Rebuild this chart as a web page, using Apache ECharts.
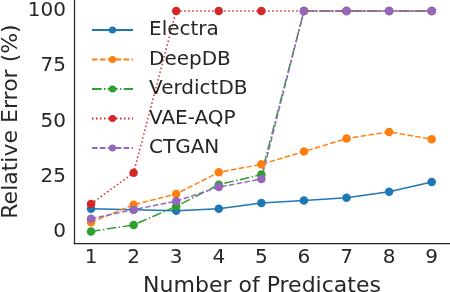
<!DOCTYPE html>
<html>
<head>
<meta charset="utf-8">
<script src="https://cdn.jsdelivr.net/npm/echarts@6/dist/echarts.min.js"></script>
<style>html,body{margin:0;padding:0;background:#fff}#c{width:450px;height:292px}</style>
</head>
<body>
<div id="c"></div>
<script>
const categories = [1, 2, 3, 4, 5, 6, 7, 8, 9];
const electra = [10.5, 10.1, 9.6, 10.5, 13.1, 14.2, 15.5, 18.2, 22.6];
const deepdb = [4.4, 12.3, 17.2, 27.0, 30.6, 36.4, 42.3, 45.3, 42.0];
const verdictdb = [0.2, 3.2, 11.6, 21.4, 26.0, 100, 100, 100, 100];
const vaeaqp = [12.7, 26.8, 100, 100, 100, 100, 100, 100, 100];
const ctgan = [6.0, 10.1, 13.9, 20.3, 24.0, 100, 100, 100, 100];
const yTicks = [0, 25, 50, 75, 100];

const seriesDefs = [
  {name: 'Electra', data: electra, color: '#1f77b4', dash: 'solid'},
  {name: 'DeepDB', data: deepdb, color: '#ff7f0e', dash: [5.5, 2.4]},
  {name: 'VerdictDB', data: verdictdb, color: '#2ca02c', dash: [9.6, 2.4, 1.5, 2.4]},
  {name: 'VAE-AQP', data: vaeaqp, color: '#d62728', dash: [1.5, 2.5]},
  {name: 'CTGAN', data: ctgan, color: '#9467bd', dash: [5.5, 2.4]}
];

const chart = echarts.init(document.getElementById('c'), null, {renderer: 'canvas'});
const font = 'DejaVu Sans';
const txt = '#262626';
chart.setOption({
  animation: false,
  grid: {left: 74, right: 0, top: 0, bottom: 49, containLabel: false, outerBoundsMode: 'none'},
  legend: {
    left: 91, top: 19, orient: 'vertical', padding: 0,
    itemWidth: 41, itemHeight: 9, itemGap: 7.5,
    textStyle: {fontFamily: font, fontSize: 20, color: txt, padding: [0, 0, 0, 11], lineHeight: 22},
    data: seriesDefs.map(s => s.name)
  },
  xAxis: {
    type: 'value', min: 0.6, max: 9.43,
    name: 'Number of Predicates', nameLocation: 'middle', nameGap: 32, nameMoveOverlap: false,
    nameTextStyle: {fontFamily: font, fontSize: 22, color: txt},
    axisLine: {show: true, onZero: false, lineStyle: {color: txt, width: 1.25}},
    axisTick: {show: false},
    splitLine: {show: false},
    axisLabel: {customValues: categories, fontFamily: font, fontSize: 20, color: txt, margin: 5}
  },
  yAxis: {
    type: 'value', min: -5, max: 105,
    name: 'Relative Error (%)', nameLocation: 'middle', nameGap: 52, nameRotate: 90, nameMoveOverlap: false,
    nameTextStyle: {fontFamily: font, fontSize: 22, color: txt},
    axisLine: {show: true, onZero: false, lineStyle: {color: txt, width: 1.25}},
    axisTick: {show: false},
    splitLine: {show: false},
    axisLabel: {customValues: yTicks, fontFamily: font, fontSize: 20, color: txt, margin: 8}
  },
  series: seriesDefs.map(s => ({
    name: s.name, type: 'line',
    data: categories.map((c, i) => [c, s.data[i]]),
    symbol: 'circle', symbolSize: 8.5,
    itemStyle: {color: s.color},
    lineStyle: {color: s.color, width: 1.5, type: s.dash},
    clip: false
  }))
});
</script>
</body>
</html>
